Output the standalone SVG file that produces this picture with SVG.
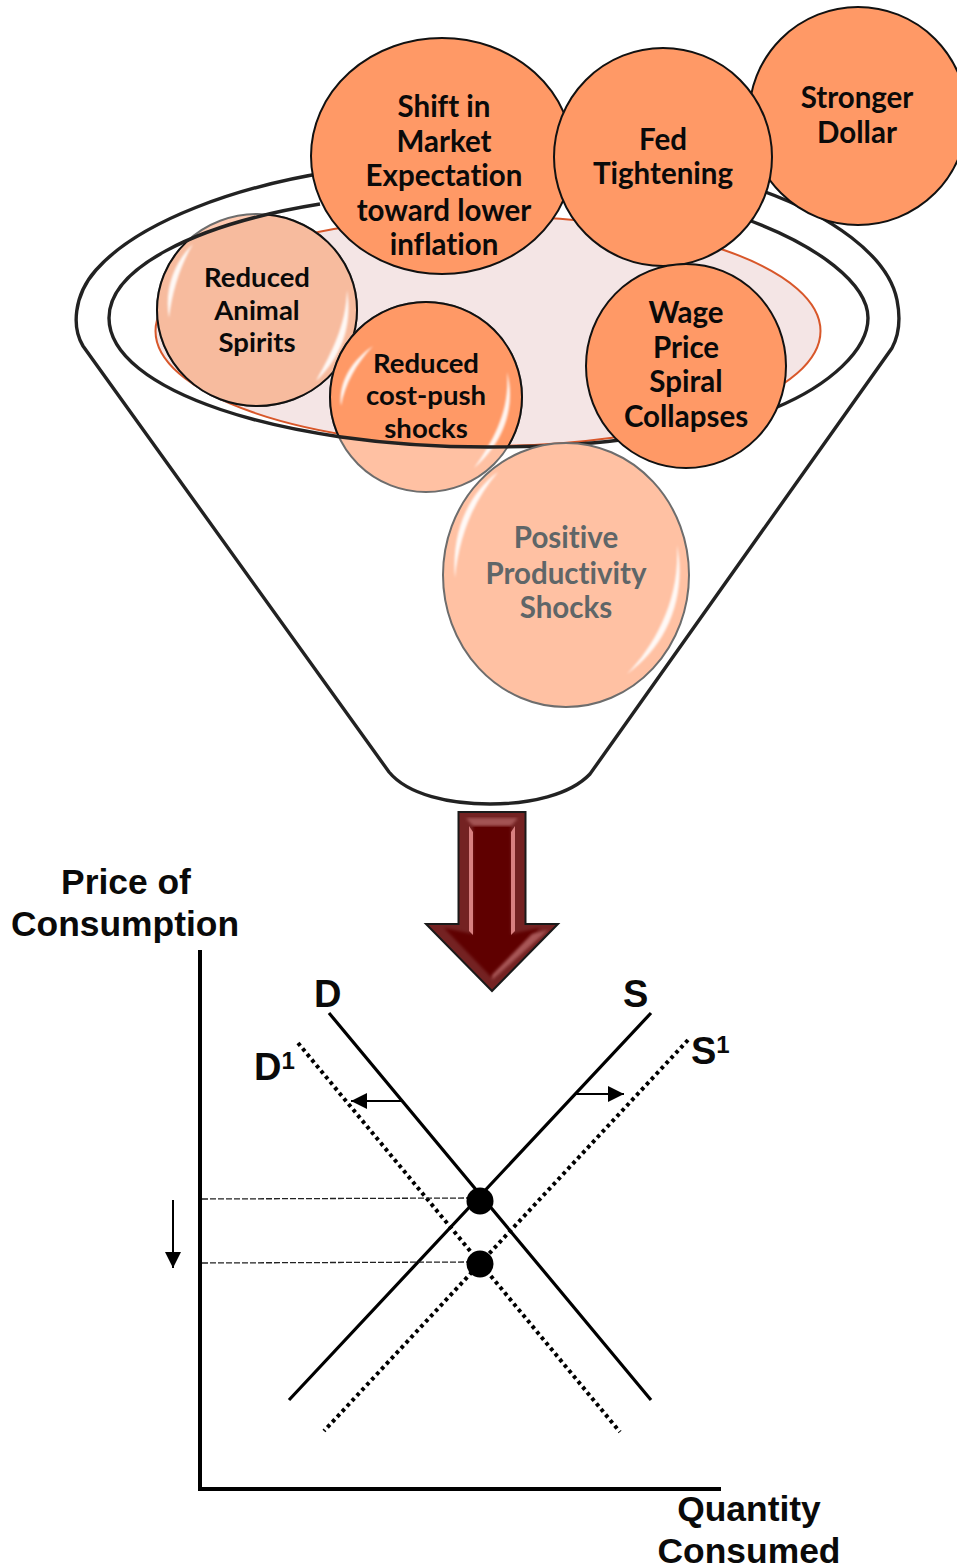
<svg xmlns="http://www.w3.org/2000/svg" width="957" height="1568" viewBox="0 0 957 1568">
<style>
.rim{fill:none;stroke:#222;stroke-width:3.4}
.ball{fill:#ff9966;stroke:#111;stroke-width:2}
.soft{fill:#ffc1a3;stroke:#6d6d6d;stroke-width:2}
.glint{fill:#fff;fill-opacity:.9;filter:url(#blur)}
.t{font-family:Lato,"Open Sans",sans-serif;font-weight:700;font-size:29.500px;font-variant-ligatures:none;text-anchor:middle;fill:#0a0a0a}
.s{font-size:27.500px}
.g{fill:#5f6668}
.a{font-family:"Liberation Sans",Arial,sans-serif;font-weight:700;fill:#0a0a0a;font-size:35.400px}
.m{text-anchor:middle}
.b{font-size:38px}
.sup{font-size:24px}
.axis{stroke:#000;stroke-width:4;fill:none}
.curve{stroke:#000;stroke-width:3.2;fill:none}
.dot{stroke:#000;stroke-width:4;stroke-dasharray:3.6 3.6;fill:none}
.guide{stroke:#222;stroke-width:1.3;stroke-dasharray:6 2;fill:none}
.thin{stroke:#000;stroke-width:2;fill:none}
</style>
<defs>
<filter id="blur" x="-40%" y="-20%" width="180%" height="140%"><feGaussianBlur stdDeviation="0.900"/></filter>
<filter id="bevel" x="-10%" y="-10%" width="120%" height="120%"><feGaussianBlur stdDeviation="1.500"/></filter>
<clipPath id="bowl"><ellipse cx="488" cy="318" rx="380" ry="129"/></clipPath>
<clipPath id="arrow"><path d="M458.500 812H525.500V924H558L492 991L426 924H458.500Z"/></clipPath>
<marker id="tip" viewBox="0 0 10 10" refX="10" refY="5" markerWidth="16" markerHeight="16" markerUnits="userSpaceOnUse" orient="auto"><path d="M0 0L10 5L0 10Z" fill="#000"/></marker>
</defs>

<g id="funnel">
<path class="rim" d="M83 346C72 328 73 296 96 270C140 220 240 186 330 172L760 190C830 215 888 255 897 300C901 320 899 335 892 348L590 774C570 795 530 804 490 804C450 804 408 795 389 772Z"/>
<ellipse cx="488" cy="331" rx="332.500" ry="115" fill="#f4e5e5" stroke="#d8572a" stroke-width="2"/>
</g>

<g id="node-animal-spirits">
<ellipse class="soft" cx="257" cy="310" rx="100" ry="96" fill-opacity=".85"/>
<g clip-path="url(#bowl)"><ellipse cx="257" cy="310" rx="100" ry="96" fill="#f7bb9e" stroke="#111" stroke-width="2"/></g>
<path class="glint" d="M193 244C174 262 164 290 169 318C172 292 180 266 193 244Z"/>
<path class="glint" d="M347 290C353 325 341 358 316 381C332 352 346 325 347 290Z"/>
<text class="t s" x="257" y="287">Reduced</text>
<text class="t s" x="257" y="320">Animal</text>
<text class="t s" x="257" y="352">Spirits</text>
</g>

<g id="node-cost-push">
<ellipse class="soft" cx="426" cy="397" rx="96" ry="95"/>
<g clip-path="url(#bowl)"><ellipse cx="426" cy="397" rx="96" ry="95" fill="#ff9966" stroke="#111" stroke-width="2"/></g>
<path class="glint" d="M373 346C352 360 338 382 341 406C345 384 356 364 373 346Z"/>
<path class="glint" d="M507 372C516 405 505 442 474 468C494 440 510 410 507 372Z"/>
<text class="t s" x="426" y="373">Reduced</text>
<text class="t s" x="426" y="405">cost-push</text>
<text class="t s" x="426" y="438">shocks</text>
</g>

<g id="funnel-front">
<path class="rim" d="M320 204C190 225 109 270 109 318C109 390 280 447 488 447C530 447 580 445 620 440M740 217C820 245 868 285 868 318C868 350 830 385 775 408"/>
</g>

<g id="node-positive-productivity">
<ellipse class="soft" cx="566" cy="575" rx="123" ry="132"/>
<path class="glint" d="M498 472C470 492 451 530 455 578C459 535 474 500 498 472Z"/>
<path class="glint" d="M677 545C687 595 668 645 627 674C655 645 680 600 677 545Z"/>
<text class="t g" x="566" y="548">Positive</text>
<text class="t g" x="566" y="584">Productivity</text>
<text class="t g" x="566" y="618">Shocks</text>
</g>

<g id="node-stronger-dollar">
<circle class="ball" cx="858" cy="116" r="109"/>
<text class="t" x="857" y="108">Stronger</text>
<text class="t" x="857" y="143">Dollar</text>
</g>
<g id="node-market-expectation">
<ellipse class="ball" cx="442" cy="156" rx="131" ry="118"/>
<text class="t" x="444" y="117">Shift in</text>
<text class="t" x="444" y="152">Market</text>
<text class="t" x="444" y="186">Expectation</text>
<text class="t" x="444" y="221">toward lower</text>
<text class="t" x="444" y="255">inflation</text>
</g>
<g id="node-fed-tightening">
<circle class="ball" cx="663" cy="157" r="109"/>
<text class="t" x="663" y="150">Fed</text>
<text class="t" x="663" y="184">Tightening</text>
</g>
<g id="node-wage-price">
<ellipse class="ball" cx="686" cy="366" rx="100" ry="102"/>
<text class="t" x="686" y="323">Wage</text>
<text class="t" x="686" y="358">Price</text>
<text class="t" x="686" y="392">Spiral</text>
<text class="t" x="686" y="427">Collapses</text>
</g>

<g id="down-arrow">
<path d="M458.500 812H525.500V924H558L492 991L426 924H458.500Z" fill="#742222"/>
<g clip-path="url(#arrow)">
<path d="M473 824H511V934L540 928L492 978L444 928L473 934Z" fill="#5f0000" filter="url(#bevel)"/>
<path d="M466 818H518L511 826H473Z" fill="#a35252" filter="url(#bevel)"/>
<path d="M469 826L473 832V935L469 931Z" fill="#d98080"/>
<path d="M515 826L511 832V935L515 931Z" fill="#d98080"/>
<path d="M492 980V975L532 934L548 930Z" fill="#a85656" filter="url(#bevel)"/>
</g>
<path d="M458.500 812H525.500V924H558L492 991L426 924H458.500Z" fill="none" stroke="#1a1a1a" stroke-width="2"/>
</g>

<g id="connectors">
<path class="axis" d="M200 950V1489M198 1489H721"/>
<path class="curve" d="M329 1013L651 1400M651 1013L289 1400"/>
<path class="dot" d="M298 1043L620 1432M688 1040L324 1431"/>
<path class="guide" d="M202 1199L470 1198M202 1263L470 1262"/>
<path class="thin" marker-end="url(#tip)" d="M401 1101H351"/>
<path class="thin" marker-end="url(#tip)" d="M575 1094H624"/>
<path class="thin" marker-end="url(#tip)" d="M173 1200V1268"/>
</g>

<g id="equilibrium-high"><circle cx="480" cy="1201" r="13.500" fill="#000"/></g>
<g id="equilibrium-low"><circle cx="480" cy="1264" r="13.500" fill="#000"/></g>

<g id="labels">
<text class="a m" x="126" y="894">Price of</text>
<text class="a m" x="125" y="936">Consumption</text>
<text class="a b" x="314" y="1007">D</text>
<text class="a b" x="623" y="1007">S</text>
<text class="a b" x="254" y="1080">D<tspan class="sup" dy="-11">1</tspan></text>
<text class="a b" x="691" y="1064">S<tspan class="sup" dy="-11">1</tspan></text>
<text class="a m" x="749" y="1521">Quantity</text>
<text class="a m" x="749" y="1563">Consumed</text>
</g>
</svg>
